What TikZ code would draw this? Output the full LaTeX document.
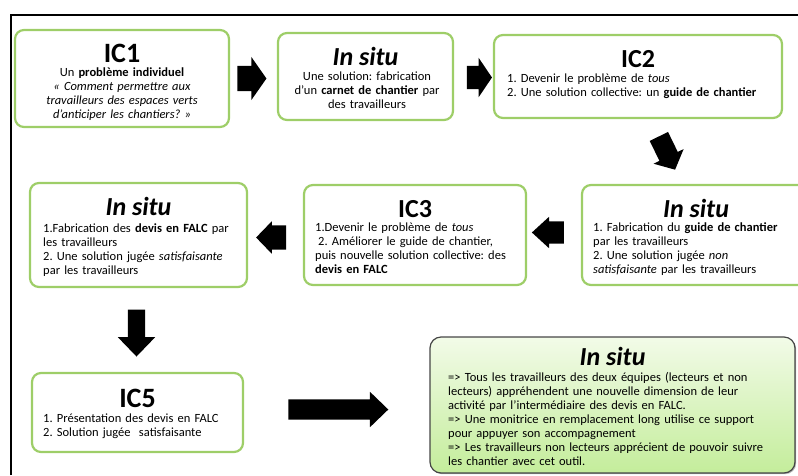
\documentclass[tikz,border=0pt]{standalone}
\usepackage{fontspec}
\setmainfont{Carlito}
\usetikzlibrary{shapes.arrows, shadows}

\definecolor{boxgreen}{RGB}{158,206,104}
\definecolor{boxgray}{RGB}{70,70,70}
\definecolor{shadetop}{RGB}{242,251,232}
\definecolor{shadebot}{RGB}{196,237,155}

\frenchspacing

\begin{document}
\begin{tikzpicture}[x=1pt, y=-1pt,
        stage/.style={draw=boxgreen, line width=2.2pt, rounded corners=9pt, fill=white, inner sep=0pt},
        endbox/.style={draw=boxgray, line width=1.2pt, rounded corners=11pt, top color=shadetop, bottom color=shadebot,
            drop shadow={shadow xshift=1.2pt, shadow yshift=-1.2pt, opacity=0.6}, inner sep=0pt},
        stagetitle/.style={font=\fontsize{26}{26}\selectfont\bfseries, inner sep=0pt, anchor=base},
        bigtitle/.style={stagetitle, font=\fontsize{28}{28}\selectfont\bfseries},
        situtitle/.style={stagetitle, font=\fontsize{26}{26}\selectfont\bfseries\itshape},
        bodytext/.style={font=\fontsize{12.5}{14}\selectfont, inner sep=0pt, text width=#1, align=left, anchor=base west},
        cbodytext/.style={font=\fontsize{12.5}{14}\selectfont, inner sep=0pt, text width=#1, align=center, anchor=base},
        barrow/.style={single arrow, fill=black, draw=none, inner xsep=0pt}
    ]
    \useasboundingbox (0,0) rectangle (798,475);
    \clip (0,0) rectangle (798,475);

    % frame
    \draw[line width=2pt] (11,475) -- (11,15) -- (798,15);

    % --- Row 1: IC1, In situ, IC2 ---
    \node[stage, minimum width=214, minimum height=97] (ic1) at (122,78.5) {};
    \node[bigtitle] (ic1t) at (122,62) {IC1};
    \node[cbodytext=210] (ic1b) at (122,76.5) {Un \textbf{problème individuel}\\
        \textit{« Comment permettre aux}\\
        \textit{travailleurs des espaces verts}\\
        \textit{d’anticiper les chantiers? »}};

    \node[stage, minimum width=175, minimum height=87] (situa) at (365.5,76.5) {};
    \node[situtitle] (situat) at (365.5,65) {In situ};
    \node[cbodytext=172] (situab) at (367,80) {Une solution: fabrication\\
        d’un \textbf{carnet de chantier} par\\
        des travailleurs};

    \node[stage, minimum width=288, minimum height=83] (ic2) at (638,76.5) {};
    \node[stagetitle] (ic2t) at (638,67) {IC2};
    \node[bodytext=280] (ic2b) at (507,82) {1. Devenir le problème de \textit{tous}\\
        2. Une solution collective: un \textbf{guide de chantier}};

    % --- Row 2: In situ, IC3, In situ ---
    \node[stage, minimum width=228, minimum height=100] (situb) at (696,235) {};
    \node[situtitle] (situbt) at (696,217) {In situ};
    \node[bodytext=215] (situbb) at (593,231) {1. Fabrication du \textbf{guide de chantier}\\
        par les travailleurs\\
        2. Une solution jugée \textit{non}\\
        \textit{satisfaisante} par les travailleurs};

    \node[stage, minimum width=222, minimum height=100] (ic3) at (415,235) {};
    \node[stagetitle] (ic3t) at (415,217) {IC3};
    \node[bodytext=230] (ic3b) at (315,231) {1.Devenir le problème de \textit{tous}\\
        \hspace*{3pt}2. Améliorer le guide de chantier,\\
        puis nouvelle solution collective: des\\
        \textbf{devis en FALC}};

    \node[stage, minimum width=217, minimum height=104] (situc) at (138.5,235) {};
    \node[situtitle] (situct) at (138.5,215) {In situ};
    \node[bodytext=210] (situcb) at (43,232) {1.Fabrication des \textbf{devis en FALC} par\\
        les travailleurs\\
        2. Une solution jugée \textit{satisfaisante}\\
        par les travailleurs};

    % --- Row 3: IC5, final In situ ---
    \node[stage, minimum width=211, minimum height=79] (ic5) at (137.5,412.5) {};
    \node[bigtitle] (ic5t) at (137.5,407) {IC5};
    \node[bodytext=200] (ic5b) at (43,422) {1. Présentation des devis en FALC\\
        2. Solution jugée\ \ satisfaisante};

    \node[endbox, minimum width=365, minimum height=136] (situd) at (612.5,405) {};
    \node[situtitle] (situdt) at (612.5,365) {In situ};
    \node[bodytext=345] (situdb) at (448,381) {={}> Tous les travailleurs des deux équipes (lecteurs et non\\
        lecteurs) appréhendent une nouvelle dimension de leur\\
        activité par l’intermédiaire des devis en FALC.\\
        ={}> Une monitrice en remplacement long utilise ce support\\
        pour appuyer son accompagnement\\
        ={}> Les travailleurs non lecteurs apprécient de pouvoir suivre\\
        les chantier avec cet outil.};

    % --- Block arrows ---
    \node[barrow, inner ysep=12.5, minimum height=29, single arrow head extend=9, single arrow tip angle=110] (arra) at (247.5,78.5) {};
    \node[barrow, inner ysep=11.5, minimum height=25, single arrow head extend=8, single arrow tip angle=112] (arrb) at (475.5,77.5) {};
    \node[barrow, inner ysep=10, minimum height=37, single arrow head extend=6.5, single arrow tip angle=97, rotate=-64] (arrc) at (665,149) {};
    \node[barrow, inner ysep=11, minimum height=32, single arrow head extend=4.5, single arrow tip angle=85, rotate=180] (arrd) at (554,232.5) {};
    \node[barrow, inner ysep=12, minimum height=30, single arrow head extend=4, single arrow tip angle=92, rotate=180] (arre) at (277,237.5) {};
    \node[barrow, inner ysep=8.5, minimum height=47, single arrow head extend=10, single arrow tip angle=88, rotate=-90] (arrf) at (136.5,328.5) {};
    \node[barrow, inner ysep=10, minimum height=100, single arrow head extend=7.5, single arrow tip angle=88] (arrg) at (333,409.5) {};

\end{tikzpicture}
\end{document}
